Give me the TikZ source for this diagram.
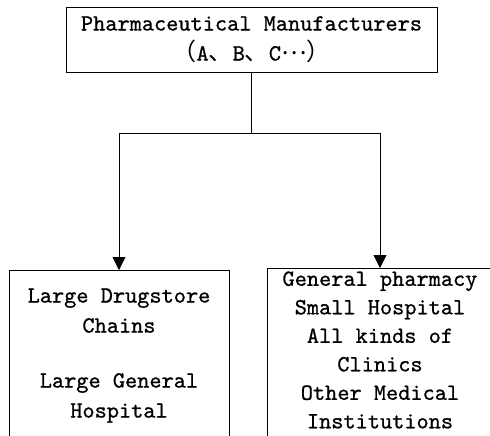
\documentclass[tikz,border=0pt]{standalone}
\usepackage{fontspec}
\setmonofont{lmmono10-regular.otf}[FakeBold=0.8]
\newfontfamily\cjk{Noto Sans CJK SC}
\usetikzlibrary{arrows.meta}
\newcommand{\zhpunct}[1]{{\cjk\fontsize{24}{30}\selectfont #1}}

\tikzset{
  box/.style={draw, line width=0.8pt, align=center, inner xsep=0pt,
    font=\ttfamily\fontsize{23.2}{30}\selectfont},
  tip/.style={-{Triangle[width=13pt,length=13pt]}, line width=0.8pt}
}

\begin{document}
\begin{tikzpicture}[x=1pt, y=-1pt]
\useasboundingbox (0,0) rectangle (490,436);
\clip (0,0) rectangle (490,436);
\node[box, minimum width=371pt, minimum height=65pt, inner ysep=0pt] (mfr) at (251.5,39.5)
  {Pharmaceutical Manufacturers\\\zhpunct{（}A\zhpunct{、}B\zhpunct{、}C\raisebox{6pt}{\zhpunct{…}}\zhpunct{）}};
\node[box, anchor=north, minimum width=220pt, inner ysep=18pt, text depth=30pt] (chains) at (119,270)
  {Large Drugstore\\Chains\\[25pt]Large General\\Hospital};
\node[box, anchor=north, minimum width=226pt, inner ysep=3pt, text depth=20pt,
  font=\ttfamily\fontsize{23.2}{28.5}\selectfont] (small) at (380,268)
  {General pharmacy\\Small Hospital\\All kinds of\\Clinics\\Other Medical\\Institutions};
\coordinate (split) at (251.5,133);
\draw[line width=0.8pt] (mfr.south) -- (split);
\draw[tip] (split) -| (chains.north);
\draw[tip] (split) -| (small.north);
\end{tikzpicture}
\end{document}
